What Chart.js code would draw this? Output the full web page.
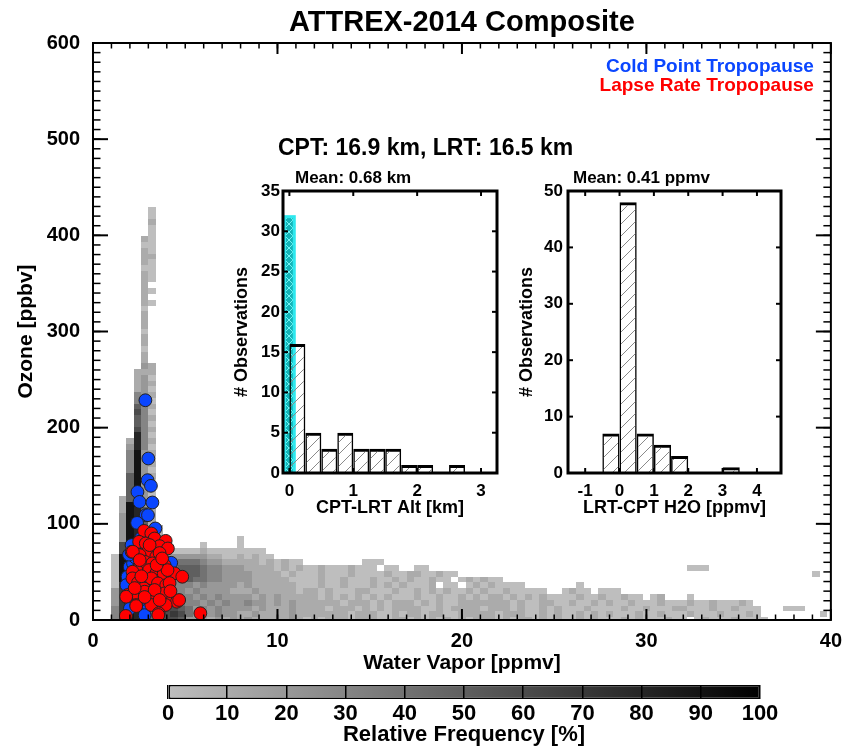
<!DOCTYPE html>
<html>
<head>
<meta charset="utf-8">
<script src="https://cdn.jsdelivr.net/npm/chart.js@4.4.1/dist/chart.umd.min.js"></script>
<style>
	html, body { margin: 0; padding: 0; background: #fff; }
	#wrap { position: relative; width: 851px; height: 748px; overflow: hidden; }
	canvas { position: absolute; }
</style>
</head>
<body>
<div id="wrap">
	<canvas id="mainChart" width="851" height="748" style="left:0;top:0"></canvas>
	<canvas id="altHist" width="285" height="365" style="left:225px;top:160px"></canvas>
	<canvas id="h2oHist" width="285" height="365" style="left:505px;top:160px"></canvas>
	<canvas id="colorBar" width="660" height="72" style="left:140px;top:676px"></canvas>
</div>
<script>
const FONT = "'Liberation Sans', Arial, Helvetica, sans-serif"
Chart.defaults.font.family = FONT
Chart.defaults.font.weight = 'bold'
Chart.defaults.color = '#000'
Chart.defaults.animation = false
Chart.defaults.responsive = false
Chart.defaults.plugins.legend.display = false
Chart.defaults.plugins.tooltip.enabled = false

// ---- data ----
const plotTitle = 'ATTREX-2014 Composite'
const cptLabel = 'Cold Point Tropopause'
const lrtLabel = 'Lapse Rate Tropopause'
const heightText = 'CPT: 16.9 km, LRT: 16.5 km'

// cold point tropopause: water vapor [ppmv], ozone [ppbv]
const cptWater = [2.84, 3.0, 2.96, 3.14, 2.41, 2.52, 3.22, 2.86, 2.98, 2.39, 3.38, 2.09, 4.24, 1.99, 1.87, 1.81, 1.9, 2.98, 3.7, 2.17,
	2.6, 3.1, 2.3, 3.5, 2.7, 3.3, 2.2, 3.9, 2.5, 3.2, 2.0, 2.8, 3.6, 4.1, 2.4, 3.0, 2.9, 1.95]
const cptOzone = [228.5, 167.9, 145.4, 139.5, 133.2, 122.8, 122.2, 109, 109, 101, 95.2, 77.9, 59.5, 55.3, 45, 36.3, 22.5, 15.6, 22.5, 58.9,
	85, 75, 65, 55, 45, 35, 30, 40, 20, 25, 12, 5, 12, 28, 42, 60, 88, 68]

// lapse rate tropopause
const lrtWater = [2.77, 3.16, 3.34, 3.94, 2.5, 2.86, 3.61, 4.06, 2.09, 2.98, 2.53, 3.43, 3.61, 2.8, 3.22, 3.88, 2.35, 3.04, 2.14, 3.43,
	3.83, 4.42, 4.84, 2.14, 3.16, 3.52, 3.97, 2.44, 2.75, 1.87, 2.44, 2.8, 3.25, 3.88, 4.33, 4.55, 2.35, 3.16, 3.94, 3.56,
	1.78, 5.82, 2.16, 1.8, 2.34, 4.67, 3.54, 3.07, 3.61, 2.53, 4.15, 3.34, 2.26, 3.61, 2.8, 4.04, 3.45, 2.62, 3.75, 4.2]
const lrtOzone = [92.7, 90, 84.8, 82.3, 81.3, 79.6, 76.8, 74.4, 70.9, 70.9, 67.5, 65.7, 62.3, 60.5, 58.9, 57.1, 51.9, 51.9, 50.2, 48.5,
	48.5, 48.5, 45, 43.3, 43.3, 38.1, 36.3, 38.7, 32.9, 26, 26, 29.4, 26, 27.7, 21.5, 19, 15.6, 15.6, 15.6, 7,
	4.2, 7, 71, 24.2, 14.5, 20.8, 5.2, 77.9, 69.6, 62.3, 38.4, 31.2, 33.2, 20.8, 23.9, 51.9, 57.1, 45.5, 64, 30]

// relative-frequency grid: bin size, then one string per ozone bin (row j centred on j*freqDy),
// one character per water-vapor bin (column i centred on i*freqDx); digit = tens of percent, '.' = empty
const freqDx = 0.4
const freqDy = 6
const freqRows = [
	'...3798545 6652221212 1211111210 1011101110 0110101010 1011101011 0101001010 0010100010 0.01000100 00',
	'...3798545 6764222322 1121111211 1111101110 0101101100 1111101110 0101001010 1000100100 0100010001 0........0',
	'...3798545 5654232322 2212111211 1101110101 0111100101 1110111010 0101000100 0010010001 1000100100 0...000',
	'...2798544 4543323232 2322121211 1111011101 0111010100 1111111010 0110010010 1001000100 0100100010',
	'...2798544 4433232322 2212121111 1010101010 1000100100 1010110101 0100001001 00100.01.. .0',
	'...2798544 3332322221 1121111101 1010001100 0100101010 0101001000 00..0100.0 00',
	'...0798524 3333232222 1211111100 0100100010 1010001.00 .01010000. ......0',
	'...0998524 4345443322 2211111000 0100100010 010100100. 010100',
	'...0998524 4455543322 2211110100 0100010000 1001100100 .......... .......... .......... .......... ........0',
	'...0998523 4455543322 2111101010 010001000. 00..00.... .......... .......... .......... .000',
	'...0998523 3344432211 111010100. .......000',
	'...0998523 2222221100 10100',
	'....698523 1000010000 0000',
	'....698521 0....0.... 0',
	'....298521 0......... 0',
	'....298511',
	'....298511',
	'....29851',
	'....29851',
	'....19851',
	'....19921',
	'....15921',
	'.....5920',
	'.....5921',
	'.....5920',
	'.....5921',
	'.....3920',
	'.....3921',
	'.....3920',
	'.....3921',
	'.....2830',
	'.....1831',
	'......830',
	'......631',
	'......530',
	'......531',
	'......630',
	'......531',
	'......330',
	'......321',
	'......120',
	'......121',
	'......120',
	'......111',
	'.......21',
	'.......1',
	'.......1',
	'.......0',
	'.......1',
	'.......1',
	'.......0',
	'.......1',
	'.......1',
	'.......1',
	'.......0',
	'.......10',
	'.......1',
	'.......10',
	'.......1',
	'.......10',
	'.......10',
	'.......00',
	'.......10',
	'.......11',
	'.......10',
	'.......00',
	'.......10',
	'........0',
	'........0',
	'........1',
	'........0',
	'........0',
]
const freqScale = [0, 100]

// inset 1: CPT-LRT altitude difference
const altBins = [0.125, 0.375, 0.625, 0.875, 1.125, 1.375, 1.625, 1.875, 2.125, 2.375, 2.625, 2.875]
const altCounts = [16, 5, 3, 5, 3, 3, 3, 1, 1, 0, 1, 0]
const altEqualRange = [-0.1, 0.1]
const altEqualCount = 32
const altMeanText = 'Mean: 0.68 km'

// inset 2: LRT-CPT water vapor difference
const h2oBins = [-1.25, -0.75, -0.25, 0.25, 0.75, 1.25, 1.75, 2.25, 2.75, 3.25, 3.75, 4.25]
const h2oCounts = [0, 0, 7, 48, 7, 5, 3, 0, 0, 1, 0, 0]
const h2oMeanText = 'Mean: 0.41 ppmv'

// ---- helpers ----
const grayFor = (pct) => {
	const g = Math.round(190 * (1 - pct / 100))
	return `rgb(${g},${g},${g})`
}

function makeHatch(color, size, cross) {
	const c = document.createElement('canvas')
	c.width = c.height = size
	const g = c.getContext('2d')
	g.strokeStyle = color
	g.lineWidth = 1
	g.beginPath()
	g.moveTo(0, size); g.lineTo(size, 0)
	g.moveTo(-2, 2); g.lineTo(2, -2)
	g.moveTo(size - 2, size + 2); g.lineTo(size + 2, size - 2)
	if (cross) {
		g.moveTo(0, 0); g.lineTo(size, size)
		g.moveTo(-2, size - 2); g.lineTo(2, size + 2)
		g.moveTo(size - 2, -2); g.lineTo(size + 2, 2)
	}
	g.stroke()
	return g.createPattern(c, 'repeat')
}
const barHatch = makeHatch('#8a8a8a', 12, false)
const cyanHatch = makeHatch('#6ff5f5', 8, true)

// IDL style box with inward ticks on all four sides
const idlFrame = {
	id: 'idlFrame',
	afterDatasetsDraw(chart, args, o) {
		const { ctx, chartArea: a } = chart
		const { x, y } = chart.scales
		ctx.save()
		ctx.strokeStyle = '#000'
		const seg = (x0, y0, x1, y1, w) => {
			ctx.lineWidth = w
			ctx.beginPath()
			ctx.moveTo(x0, y0)
			ctx.lineTo(x1, y1)
			ctx.stroke()
		}
		const xMark = (v, len, w) => {
			const p = x.getPixelForValue(v)
			seg(p, a.bottom, p, a.bottom - len, w)
			seg(p, a.top, p, a.top + len, w)
		}
		const yMark = (v, len, w) => {
			const p = y.getPixelForValue(v)
			seg(a.left, p, a.left + len, p, w)
			seg(a.right, p, a.right - len, p, w)
		}
		if (o.xMinor) {
			for (let k = Math.ceil(x.min / o.xMinor); k * o.xMinor <= x.max; k++) xMark(k * o.xMinor, o.xLen / 2, o.tickWidth * 0.75)
		}
		if (o.yMinor) {
			for (let k = Math.ceil(y.min / o.yMinor); k * o.yMinor <= y.max; k++) yMark(k * o.yMinor, o.yLen / 2, o.tickWidth * 0.75)
		}
		x.ticks.forEach((t) => xMark(t.value, o.xLen, o.tickWidth))
		y.ticks.forEach((t) => yMark(t.value, o.yLen, o.tickWidth))
		ctx.lineWidth = o.lineWidth
		ctx.strokeRect(a.left, a.top, a.right - a.left, a.bottom - a.top)
		ctx.restore()
	},
}

// free text placed relative to the plot box
const plotText = {
	id: 'plotText',
	afterDraw(chart, args, o) {
		const { ctx, chartArea: a } = chart
		ctx.save()
		ctx.textBaseline = 'middle'
		o.items.forEach((it) => {
			ctx.font = `bold ${it.size}px ${FONT}`
			ctx.fillStyle = it.color || '#000'
			ctx.textAlign = it.align || 'left'
			const base = it.from === 'right' ? a.right : it.from === 'center' ? (a.left + a.right) / 2 : a.left
			ctx.fillText(it.text, base + it.dx, a.top + it.dy)
		})
		ctx.restore()
	},
}

// grey 2-D frequency cells under the scatter points
const freqCells = {
	id: 'freqCells',
	beforeDatasetsDraw(chart) {
		const { ctx, chartArea: a } = chart
		const { x, y } = chart.scales
		ctx.save()
		ctx.beginPath()
		ctx.rect(a.left, a.top, a.right - a.left, a.bottom - a.top)
		ctx.clip()
		freqRows.forEach((row, j) => {
			const cells = row.replace(/ /g, '')
			for (let i = 0; i < cells.length; i++) {
				if (cells[i] === '.') continue
				const x0 = Math.round(x.getPixelForValue(i * freqDx - freqDx / 2))
				const x1 = Math.round(x.getPixelForValue(i * freqDx + freqDx / 2))
				const y0 = Math.round(y.getPixelForValue(j * freqDy + freqDy / 2))
				const y1 = Math.round(y.getPixelForValue(j * freqDy - freqDy / 2))
				ctx.fillStyle = grayFor(Number(cells[i]) * 10)
				ctx.fillRect(x0, y0, x1 - x0, y1 - y0)
			}
		})
		ctx.restore()
	},
}

// cyan bar of cases where CPT and LRT coincide
const equalBar = {
	id: 'equalBar',
	beforeDatasetsDraw(chart, args, o) {
		const { ctx } = chart
		const { x, y } = chart.scales
		const x0 = x.getPixelForValue(o.range[0])
		const x1 = x.getPixelForValue(o.range[1])
		const yTop = y.getPixelForValue(o.count)
		const yBot = y.getPixelForValue(0)
		ctx.save()
		ctx.fillStyle = '#2ee8ee'
		ctx.fillRect(x0, yTop, x1 - x0, yBot - yTop)
		ctx.fillStyle = '#14b4b8'
		ctx.fillRect(x0 + 3, yTop + 3, x1 - x0 - 6, yBot - yTop - 3)
		ctx.fillStyle = cyanHatch
		ctx.fillRect(x0 + 3, yTop + 3, x1 - x0 - 6, yBot - yTop - 3)
		ctx.restore()
	},
}

// ---- main scatter ----
const blue = '#0a46ff'
const red = '#ff0000'
new Chart(document.getElementById('mainChart'), {
	type: 'scatter',
	data: {
		datasets: [
			{
				label: lrtLabel,
				data: lrtWater.map((w, i) => ({ x: w, y: lrtOzone[i] })),
				backgroundColor: red,
				borderColor: '#222',
				borderWidth: 1,
				pointRadius: 6.4,
				order: 0,
			},
			{
				label: cptLabel,
				data: cptWater.map((w, i) => ({ x: w, y: cptOzone[i] })),
				backgroundColor: blue,
				borderColor: '#222',
				borderWidth: 1,
				pointRadius: 6.4,
				order: 1,
			},
		],
	},
	options: {
		layout: { padding: { left: 0, right: 16, top: 43, bottom: 68 } },
		scales: {
			x: {
				type: 'linear',
				min: 0,
				max: 40,
				grid: { display: false, drawTicks: false },
				border: { display: false },
				ticks: { stepSize: 10, padding: 9, font: { size: 20 } },
				title: { display: true, text: 'Water Vapor [ppmv]', font: { size: 21 }, padding: { top: 0, bottom: 4 } },
				afterFit(scale) { scale.height = 60 },
			},
			y: {
				min: 0,
				max: 600,
				grid: { display: false, drawTicks: false },
				border: { display: false },
				ticks: { stepSize: 100, padding: 13, font: { size: 20 } },
				title: { display: true, text: 'Ozone [ppbv]', font: { size: 21 }, padding: { top: 14, bottom: 0 } },
				afterFit(scale) { scale.width = 93 },
			},
		},
		plugins: {
			idlFrame: { lineWidth: 2, tickWidth: 2, xLen: 11, yLen: 15, xMinor: 1, yMinor: 10 },
			plotText: {
				items: [
					{ text: plotTitle, from: 'center', align: 'center', dx: 0, dy: -20, size: 29 },
					{ text: cptLabel, from: 'right', align: 'right', dx: -17, dy: 24, size: 19, color: blue },
					{ text: lrtLabel, from: 'right', align: 'right', dx: -17, dy: 43, size: 19, color: red },
					{ text: heightText, from: 'left', dx: 185, dy: 106, size: 23 },
				],
			},
		},
	},
	plugins: [freqCells, idlFrame, plotText],
})

// ---- inset histograms ----
function histChart(id, cfg) {
	return new Chart(document.getElementById(id), {
		type: 'bar',
		data: {
			datasets: [
				{
					data: cfg.bins.map((b, i) => ({ x: b, y: cfg.counts[i] })),
					backgroundColor: barHatch,
					borderColor: '#000',
					borderWidth: { top: 3, left: 1.5, right: 1.5, bottom: 0 },
					borderSkipped: 'start',
					barPercentage: 1,
					categoryPercentage: 1,
					inflateAmount: 0,
				},
			],
		},
		options: {
			layout: { padding: cfg.padding },
			scales: {
				x: {
					type: 'linear',
					offset: false,
					min: cfg.xMin,
					max: cfg.xMax,
					grid: { display: false, drawTicks: false },
					border: { display: false },
					ticks: { stepSize: 1, includeBounds: false, padding: 8, font: { size: 17 } },
					title: { display: true, text: cfg.xTitle, font: { size: 18 }, padding: { top: 0, bottom: 2 } },
					afterFit(scale) { scale.height = 48 },
				},
				y: {
					min: 0,
					max: cfg.yMax,
					grid: { display: false, drawTicks: false },
					border: { display: false },
					ticks: { stepSize: cfg.yStep, padding: cfg.yPad, font: { size: 17 } },
					title: { display: true, text: '# Observations', font: { size: 18 }, padding: { top: cfg.yTitlePad, bottom: 0 } },
					afterFit(scale) { scale.width = cfg.yWidth },
				},
			},
			plugins: {
				idlFrame: { lineWidth: 3, tickWidth: 2, xLen: 5, yLen: 5 },
				plotText: { items: [{ text: cfg.mean, from: 'left', dx: cfg.meanDx, dy: -13, size: 17 }] },
				equalBar: cfg.equal || {},
			},
		},
		plugins: cfg.equal ? [equalBar, idlFrame, plotText] : [idlFrame, plotText],
	})
}

histChart('altHist', {
	bins: altBins,
	counts: altCounts,
	xMin: -0.1,
	xMax: 3.25,
	yMax: 35,
	yStep: 5,
	xTitle: 'CPT-LRT Alt [km]',
	mean: altMeanText,
	meanDx: 12,
	padding: { left: 0, right: 13, top: 31, bottom: 4 },
	yWidth: 58,
	yPad: 3,
	yTitlePad: 6,
	equal: { range: altEqualRange, count: altEqualCount },
})

histChart('h2oHist', {
	bins: h2oBins,
	counts: h2oCounts,
	xMin: -1.5,
	xMax: 4.7,
	yMax: 50,
	yStep: 10,
	xTitle: 'LRT-CPT H2O [ppmv]',
	mean: h2oMeanText,
	meanDx: 5,
	padding: { left: 0, right: 9, top: 31, bottom: 4 },
	yWidth: 63,
	yPad: 5,
	yTitlePad: 11,
})

// ---- colour bar ----
new Chart(document.getElementById('colorBar'), {
	type: 'bar',
	data: {
		labels: [''],
		datasets: [
			{
				data: [freqScale],
				backgroundColor: (c) => {
					const xs = c.chart.scales.x
					if (!xs || !c.chart.chartArea) return grayFor(50)
					const g = c.chart.ctx.createLinearGradient(xs.getPixelForValue(freqScale[0]), 0, xs.getPixelForValue(freqScale[1]), 0)
					g.addColorStop(0, grayFor(freqScale[0]))
					g.addColorStop(1, grayFor(freqScale[1]))
					return g
				},
				borderColor: '#000',
				borderWidth: 1.5,
				borderSkipped: false,
				barPercentage: 1,
				categoryPercentage: 1,
				inflateAmount: 0,
			},
		],
	},
	options: {
		indexAxis: 'y',
		layout: { padding: { left: 28, right: 40, top: 9, bottom: 0 } },
		scales: {
			x: {
				type: 'linear',
				min: freqScale[0],
				max: freqScale[1],
				grid: { display: true, z: 1, color: '#000', lineWidth: 1.5, drawTicks: false },
				border: { display: false },
				ticks: { stepSize: 10, padding: 2, font: { size: 22 } },
				title: { display: true, text: 'Relative Frequency [%]', font: { size: 22 }, padding: { top: 0, bottom: 0 } },
				afterFit(scale) { scale.height = 49 },
			},
			y: { display: false },
		},
	},
})
</script>
</body>
</html>
